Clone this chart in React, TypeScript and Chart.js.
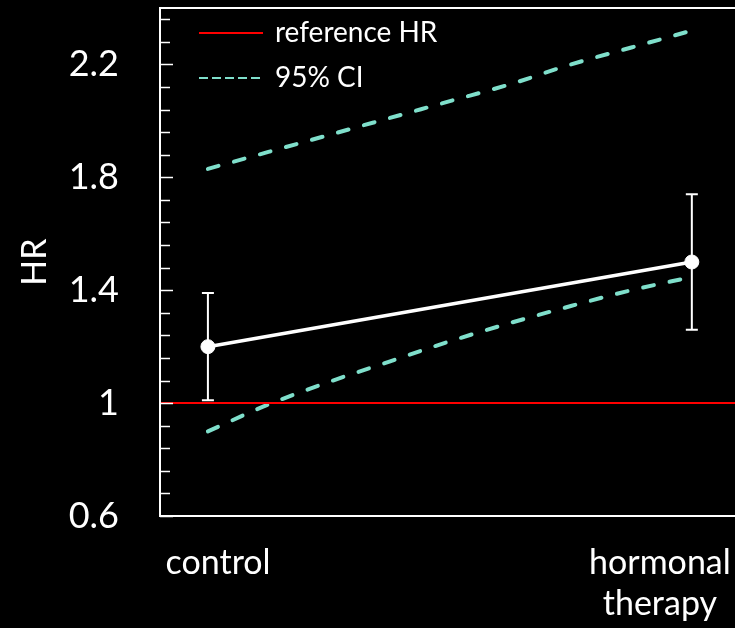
import { useEffect, useRef } from "react";
import { Chart, registerables } from "chart.js";

Chart.register(...registerables);

// Groups compared on the x axis (second label wraps onto two lines)
const groups: (string | string[])[] = ["control", ["hormonal", "therapy"]];
const groupX = [0, 1];

// Hazard ratio estimates with their error bars
const hr = [1.2, 1.5];
const hrLow = [1.01, 1.26];
const hrHigh = [1.39, 1.74];

// 95% confidence band, sampled between the two groups
const bandX = [0, 0.125, 0.25, 0.375, 0.5, 0.625, 0.75, 0.875, 1];
const ciUpper = [1.83, 1.89, 1.95, 2.01, 2.07, 2.13, 2.2, 2.26, 2.32];
const ciLower = [0.9, 0.995, 1.075, 1.147, 1.219, 1.284, 1.344, 1.4, 1.447];

// Reference hazard ratio
const referenceHR = 1;

// Labelled y ticks; minor ticks split each step into five
const yMajorTicks = [0.6, 1.0, 1.4, 1.8, 2.2];
const yMin = 0.6;
const yMax = 2.4;
const minorPerMajor = 5;

const X_MIN = -0.099;
const X_MAX = 1.207;
const xLabelAt = [0.021, 0.934];

const FONT = "Lato, 'Open Sans', sans-serif";
const CI_COLOR = "#7FDFCB";
const REF_COLOR = "#FF0000";

const framePlugin = {
  id: "frameAndMinorTicks",
  afterDraw(chart: any) {
    const { ctx, chartArea, scales } = chart;
    const y = scales.y;
    ctx.save();
    ctx.strokeStyle = "#ffffff";
    ctx.lineWidth = 2;
    ctx.strokeRect(chartArea.left, chartArea.top, chartArea.right - chartArea.left, chartArea.bottom - chartArea.top);
    const step = (yMajorTicks[1] - yMajorTicks[0]) / minorPerMajor;
    ctx.lineWidth = 1.5;
    for (let i = 0; ; i++) {
      const v = yMin + i * step;
      if (v > yMax + 1e-9) break;
      const isMajor = i % minorPerMajor === 0;
      const py = Math.round(y.getPixelForValue(v)) + 0.5;
      ctx.beginPath();
      ctx.moveTo(chartArea.left, py);
      ctx.lineTo(chartArea.left + (isMajor ? 13 : 10), py);
      ctx.stroke();
    }
    ctx.restore();
  },
};

const errorBarPlugin = {
  id: "errorBars",
  afterDatasetsDraw(chart: any) {
    const { ctx, scales } = chart;
    ctx.save();
    ctx.strokeStyle = "#ffffff";
    ctx.lineWidth = 2;
    groupX.forEach((gx, i) => {
      const px = scales.x.getPixelForValue(gx);
      const top = scales.y.getPixelForValue(hrHigh[i]);
      const bot = scales.y.getPixelForValue(hrLow[i]);
      ctx.beginPath();
      ctx.moveTo(px, top);
      ctx.lineTo(px, bot);
      ctx.moveTo(px - 6, top);
      ctx.lineTo(px + 6, top);
      ctx.moveTo(px - 6, bot);
      ctx.lineTo(px + 6, bot);
      ctx.stroke();
    });
    ctx.restore();
  },
};

const legendPlugin = {
  id: "insideLegend",
  afterDraw(chart: any) {
    const { ctx, chartArea } = chart;
    const items = [
      { text: "reference HR", color: REF_COLOR, dash: [] as number[] },
      { text: "95% CI", color: CI_COLOR, dash: [9, 4] },
    ];
    ctx.save();
    ctx.font = `28px ${FONT}`;
    ctx.textBaseline = "middle";
    ctx.textAlign = "left";
    items.forEach((it, i) => {
      const ly = chartArea.top + 25 + i * 45;
      ctx.strokeStyle = it.color;
      ctx.lineWidth = 2;
      ctx.setLineDash(it.dash);
      ctx.beginPath();
      ctx.moveTo(chartArea.left + 39, ly);
      ctx.lineTo(chartArea.left + 103, ly);
      ctx.stroke();
      ctx.setLineDash([]);
      ctx.fillStyle = "#ffffff";
      ctx.fillText(it.text, chartArea.left + 115, ly);
    });
    ctx.restore();
  },
};

export default function App() {
  const canvasRef = useRef<HTMLCanvasElement | null>(null);

  useEffect(() => {
    const canvas = canvasRef.current;
    if (!canvas) return;
    const toPoints = (xs: number[], vals: number[]) => vals.map((v, i) => ({ x: xs[i], y: v }));

    const bandStyle = {
      borderColor: CI_COLOR,
      borderWidth: 4,
      borderDash: [11, 16],
      borderCapStyle: "round",
      cubicInterpolationMode: "monotone",
      pointRadius: 0,
    };

    const chart = new Chart(canvas, {
      type: "line",
      data: {
        datasets: [
          {
            label: "reference HR",
            data: [
              { x: X_MIN, y: referenceHR },
              { x: X_MAX, y: referenceHR },
            ],
            borderColor: REF_COLOR,
            borderWidth: 2,
            pointRadius: 0,
          },
          { label: "95% CI upper", data: toPoints(bandX, ciUpper), ...bandStyle },
          { label: "95% CI lower", data: toPoints(bandX, ciLower), ...bandStyle },
          {
            label: "HR",
            data: toPoints(groupX, hr),
            borderColor: "#ffffff",
            borderWidth: 3.5,
            pointRadius: 7,
            pointBackgroundColor: "#ffffff",
            pointBorderColor: "#ffffff",
            pointBorderWidth: 1,
          },
        ],
      },
      options: {
        animation: false,
        responsive: false,
        devicePixelRatio: 1,
        layout: { padding: { top: 4, left: 0, right: 0, bottom: 0 } },
        plugins: {
          legend: { display: false },
          tooltip: { enabled: false },
        },
        scales: {
          x: {
            type: "linear",
            min: X_MIN,
            max: X_MAX,
            bounds: "data",
            grid: { display: false },
            border: { display: false },
            afterBuildTicks: (axis: any) => {
              axis.ticks = xLabelAt.map((v) => ({ value: v }));
            },
            afterFit: (axis: any) => {
              axis.height = 112;
              axis.paddingLeft = 0;
              axis.paddingRight = 0;
              axis.paddingTop = 0;
              axis.paddingBottom = 0;
            },
            ticks: {
              autoSkip: false,
              maxRotation: 0,
              color: "#ffffff",
              font: { family: FONT, size: 34 },
              padding: 19,
              callback: (_v: any, i: number) => groups[i] as any,
            },
          },
          y: {
            type: "linear",
            min: yMin,
            max: yMax,
            bounds: "data",
            grid: { display: false },
            border: { display: false },
            afterBuildTicks: (axis: any) => {
              axis.ticks = yMajorTicks.map((v) => ({ value: v }));
            },
            afterFit: (axis: any) => {
              axis.width = 160;
              axis.paddingLeft = 0;
              axis.paddingRight = 0;
              axis.paddingTop = 0;
              axis.paddingBottom = 0;
            },
            ticks: {
              color: "#ffffff",
              font: { family: FONT, size: 36 },
              padding: 33,
              callback: (v: any) => String(v),
            },
            title: {
              display: true,
              text: "HR",
              color: "#ffffff",
              font: { family: FONT, size: 34 },
              padding: { top: 15, bottom: 0 },
            },
          },
        },
      },
      plugins: [framePlugin, errorBarPlugin, legendPlugin],
    } as any);

    return () => chart.destroy();
  }, []);

  return (
    <div
      style={{
        position: "fixed",
        left: 0,
        top: 0,
        width: 735,
        height: 628,
        background: "#000000",
        overflow: "hidden",
      }}
    >
      <canvas ref={canvasRef} width={800} height={628} style={{ display: "block", width: 800, height: 628 }} />
    </div>
  );
}
